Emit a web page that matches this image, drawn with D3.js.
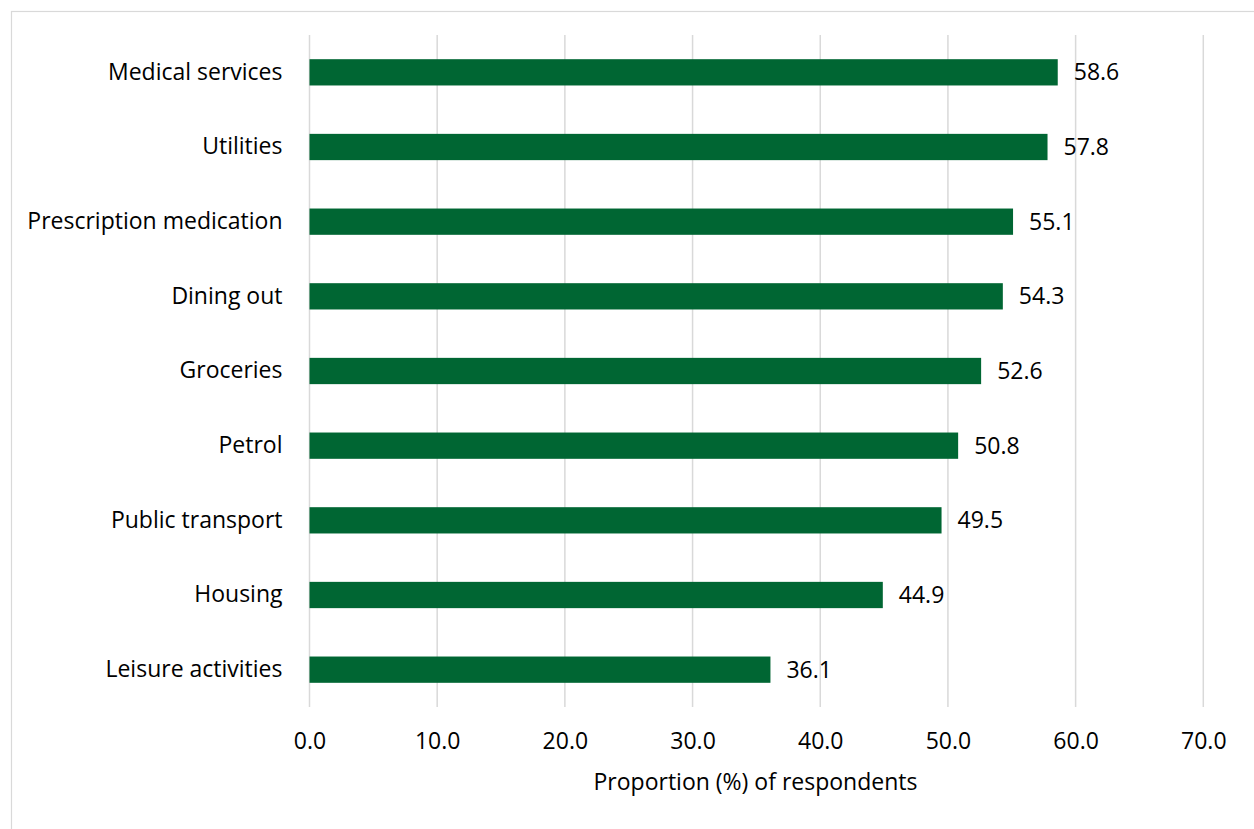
<!DOCTYPE html>
<html>
<head>
<meta charset="utf-8">
<script src="https://cdn.jsdelivr.net/npm/d3@7"></script>
<style>
  html, body { margin: 0; padding: 0; background: #fff; }
  svg text { font-family: "Open Sans", "Noto Sans", sans-serif; fill: #000; }
</style>
</head>
<body>
<svg id="chart" width="1254" height="829"></svg>
<script>
const categories = ["Medical services", "Utilities", "Prescription medication", "Dining out", "Groceries", "Petrol", "Public transport", "Housing", "Leisure activities"];
const values = [58.6, 57.8, 55.1, 54.3, 52.6, 50.8, 49.5, 44.9, 36.1];
const xTicks = [0, 10, 20, 30, 40, 50, 60, 70];
const xTitle = "Proportion (%) of respondents";

const FS = 23;
const svg = d3.select("#chart");

// outer chart border
svg.append("rect")
  .attr("x", 11.5).attr("y", 11.5)
  .attr("width", 1300).attr("height", 900)
  .attr("fill", "none").attr("stroke", "#d9d9d9").attr("stroke-width", 1.2);

const x = d3.scaleLinear().domain([0, 70]).range([309.5, 1203.3]);
const y = d3.scaleBand().domain(categories).range([35, 707]).paddingInner(0.648).paddingOuter(0.324);

// gridlines
svg.append("g")
  .selectAll("line")
  .data(xTicks)
  .join("line")
  .attr("x1", d => x(d)).attr("x2", d => x(d))
  .attr("y1", 35).attr("y2", 707)
  .attr("stroke", "#d9d9d9").attr("stroke-width", 1.5);

// x axis tick labels
const xAxis = d3.axisBottom(x).tickValues(xTicks).tickFormat(d3.format(".1f")).tickSize(0).tickPadding(0);
const gx = svg.append("g").attr("transform", "translate(0,733)").call(xAxis);
gx.select(".domain").remove();
gx.selectAll("text").attr("font-size", FS).attr("dy", "0.71em").style("font-family", '"Open Sans", sans-serif').attr("fill", "#000");

// y axis labels
const yAxis = d3.axisLeft(y).tickSize(0).tickPadding(0);
const gy = svg.append("g").attr("transform", "translate(282.5,0)").call(yAxis);
gy.select(".domain").remove();
gy.selectAll("text").attr("font-size", FS).style("font-family", '"Open Sans", sans-serif').attr("fill", "#000");

// bars
svg.append("g")
  .selectAll("rect")
  .data(values)
  .join("rect")
  .attr("x", x(0))
  .attr("y", (d, i) => y(categories[i]))
  .attr("width", d => x(d) - x(0))
  .attr("height", y.bandwidth())
  .attr("fill", "#006633");

// value labels
svg.append("g")
  .selectAll("text")
  .data(values)
  .join("text")
  .attr("x", d => x(d) + 16)
  .attr("y", (d, i) => y(categories[i]) + y.bandwidth() / 2)
  .attr("dy", "0.35em")
  .attr("font-size", FS)
  .text(d => d.toFixed(1));

// axis title
svg.append("text")
  .attr("x", 755.5).attr("y", 789.5)
  .attr("text-anchor", "middle")
  .attr("font-size", FS)
  .text(xTitle);
</script>
</body>
</html>
